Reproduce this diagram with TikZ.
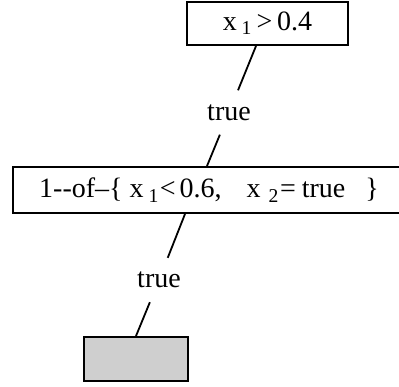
\documentclass[tikz,border=0pt]{standalone}
\usepackage{fontspec}
\setmainfont{Liberation Serif}
\usetikzlibrary{positioning}

\begin{document}
\begin{tikzpicture}[
      x=1pt, y=-1pt,
      font=\fontsize{28}{32}\selectfont,
      test/.style={rectangle, draw, line width=2pt, inner sep=0pt, align=center},
      leaf/.style={rectangle, draw, line width=2pt, fill=black!19, minimum width=104pt, minimum height=44pt},
      lab/.style={inner sep=0pt, minimum height=44pt},
      link/.style={line width=1.8pt}
    ]

    \useasboundingbox (0,0) rectangle (399,387);

    % Knoten
    \node[test, minimum width=161pt, minimum height=43pt] (root) at (267.5,23.5) {x\,\textsubscript{1}\,>\,0.4};
    \node[lab] (true1) at (229,112.5) {true};
    \node[test, minimum width=392pt, minimum height=46pt] (mofn) at (209,190)
      {1-{}-of–\{ x\kern5pt\textsubscript{1}\kern1pt<\kern4pt0.6,\kern25pt x\kern8pt\textsubscript{2}\kern1pt=\kern6pt true\kern20pt\}};
    \node[lab] (true2) at (159,280) {true};
    \node[leaf] (res) at (136,359) {};

    % Kanten
    \draw[link] ([xshift=-11.5pt]root.south) -- (true1);
    \draw[link] (true1) -- ([xshift=-2pt]mofn.north);
    \draw[link] ([xshift=-24pt]mofn.south) -- (true2);
    \draw[link] (true2) -- (res.north);

\end{tikzpicture}
\end{document}
